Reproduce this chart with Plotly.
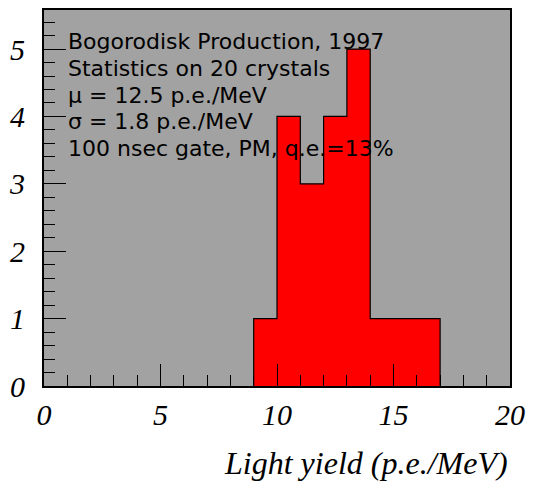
import plotly.graph_objects as go

# Histogram data: bin edges (p.e./MeV) and counts per bin
bin_edges = [9, 10, 11, 12, 13, 14, 15, 16, 17]
counts = [1, 4, 3, 4, 5, 1, 1, 1]

x_ticks = [0, 5, 10, 15, 20]
y_ticks = [0, 1, 2, 3, 4, 5]

info_lines = [
    "Bogorodisk Production, 1997",
    "Statistics on 20 crystals",
    "\u03bc = 12.5 p.e./MeV",
    "\u03c3 = 1.8 p.e./MeV",
    "100 nsec gate, PM, q.e.=13%",
]
x_title = "Light yield (p.e./MeV)"

# step outline points built from the histogram arrays
step_x = [bin_edges[0]] + bin_edges[:-1] + [bin_edges[-1]]
step_y = [0] + counts + [0]

fig = go.Figure()
fig.add_trace(go.Scatter(
    x=step_x, y=step_y, mode="lines", line=dict(shape="hv", color="black", width=1.2),
    fill="tozeroy", fillcolor="#ff0000", hoverinfo="skip", showlegend=False,
))

W, H = 533, 484
ml, mr, mt, mb = 44, 23, 8, 98
ph = H - mt - mb

tickfont = dict(family="Times New Roman, Liberation Serif, serif", size=30, color="black", style="italic")

fig.update_layout(
    width=W, height=H,
    margin=dict(l=ml, r=mr, t=mt, b=mb, pad=0),
    paper_bgcolor="white",
    plot_bgcolor="#a2a2a2",
    showlegend=False,
    xaxis=dict(
        range=[0, 20], tickvals=x_ticks, ticktext=[str(v) for v in x_ticks],
        ticks="inside", ticklen=22, tickwidth=1.2, tickcolor="black",
        minor=dict(dtick=1, ticks="inside", ticklen=11, tickwidth=1.2, tickcolor="black"),
        showgrid=False, zeroline=False,
        showline=True, linecolor="black", linewidth=2, mirror=True,
        tickfont=tickfont, ticklabelstandoff=1,
    ),
    yaxis=dict(
        range=[0, 5.58], tickvals=y_ticks, ticktext=[str(v) for v in y_ticks],
        ticks="inside", ticklen=22, tickwidth=1.2, tickcolor="black",
        minor=dict(dtick=0.2, ticks="inside", ticklen=11, tickwidth=1.2, tickcolor="black"),
        showgrid=False, zeroline=False,
        showline=True, linecolor="black", linewidth=2, mirror=True,
        tickfont=tickfont, ticklabelstandoff=11,
    ),
)

# info text lines (pixel-placed in paper coords)
pw = W - ml - mr
line_centers_px = [40, 67, 94, 120, 147]
for txt, yc in zip(info_lines, line_centers_px):
    fig.add_annotation(
        x=(66 - ml) / pw, y=(H - mb - yc) / ph, xref="paper", yref="paper",
        text=txt, showarrow=False, xanchor="left", yanchor="middle",
        font=dict(family="DejaVu Sans", size=22, color="black"),
    )

fig.add_annotation(
    x=1.0, y=(H - mb - 463) / ph, xref="paper", yref="paper",
    text=x_title, showarrow=False, xanchor="right", yanchor="middle",
    font=dict(family="Times New Roman, Liberation Serif, serif", size=32, color="black", style="italic"),
)

fig.write_html("out.html")
